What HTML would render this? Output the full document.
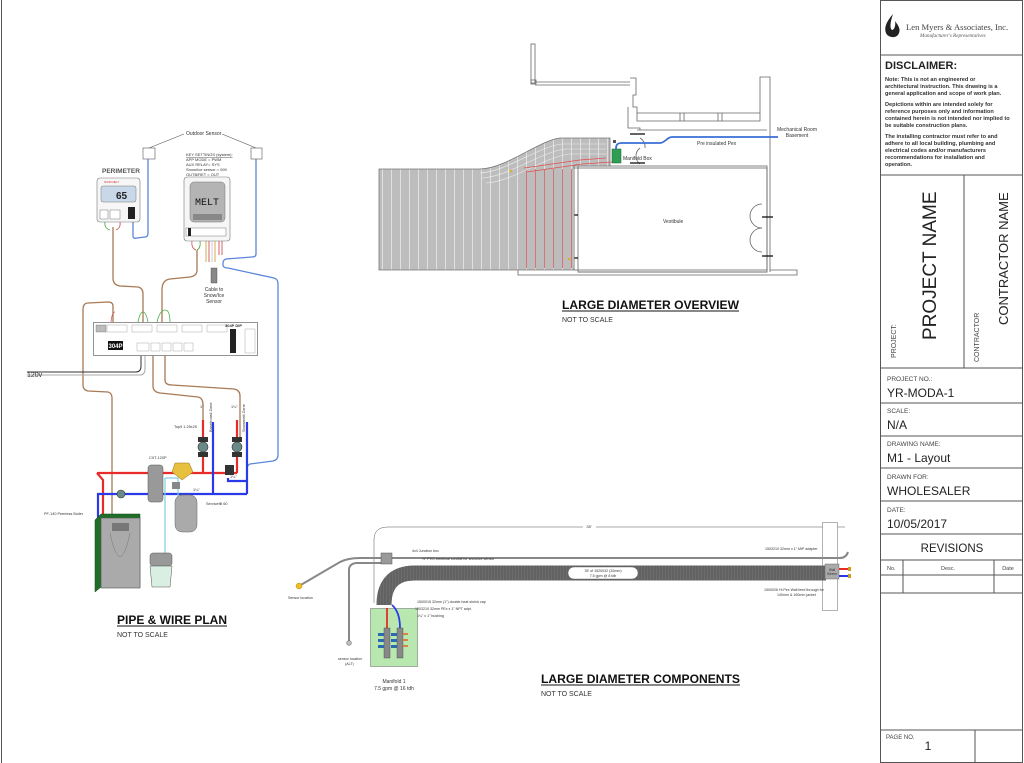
<!DOCTYPE html>
<html><head><meta charset="utf-8"><style>
html,body{margin:0;padding:0;background:#fff;}
svg{display:block;font-family:"Liberation Sans",sans-serif;}
</style></head><body>
<svg width="1024" height="763" viewBox="0 0 1024 763" xmlns="http://www.w3.org/2000/svg">
<defs>
<pattern id="serp" x="0" y="0" width="9" height="10" patternUnits="userSpaceOnUse">
<rect width="9" height="10" fill="#bdbdbd"/><line x1="4.5" y1="0" x2="4.5" y2="10" stroke="#f0f0f0" stroke-width="0.7"/>
</pattern>
<pattern id="serpr" x="0" y="0" width="9" height="10" patternUnits="userSpaceOnUse">
<rect width="9" height="10" fill="#bdbdbd"/><line x1="4.5" y1="0" x2="4.5" y2="10" stroke="#e06060" stroke-width="0.8"/>
</pattern>
<pattern id="hose" x="0" y="0" width="3" height="10" patternUnits="userSpaceOnUse">
<rect width="3" height="10" fill="#707070"/><line x1="1" y1="0" x2="1" y2="10" stroke="#444" stroke-width="0.8"/>
</pattern>
</defs>
<line x1="1.5" y1="0" x2="1.5" y2="763" stroke="#555" stroke-width="1"/>

<!-- ===== TITLE BLOCK ===== -->
<g stroke="#555" stroke-width="1" fill="none">
<rect x="880.5" y="0.5" width="142" height="762"/>
<line x1="880" y1="55" x2="1023" y2="55"/>
<line x1="880" y1="175" x2="1023" y2="175"/>
<line x1="964" y1="175" x2="964" y2="368"/>
<line x1="880" y1="368" x2="1023" y2="368"/>
<line x1="880" y1="403" x2="1023" y2="403"/>
<line x1="880" y1="436" x2="1023" y2="436"/>
<line x1="880" y1="468" x2="1023" y2="468"/>
<line x1="880" y1="501" x2="1023" y2="501"/>
<line x1="880" y1="534" x2="1023" y2="534"/>
<line x1="880" y1="560" x2="1023" y2="560"/>
<line x1="880" y1="575" x2="1023" y2="575"/>
<line x1="880" y1="593" x2="1023" y2="593"/>
<line x1="903" y1="560" x2="903" y2="593"/>
<line x1="994" y1="560" x2="994" y2="593"/>
<line x1="880" y1="730" x2="1023" y2="730"/>
<line x1="975" y1="730" x2="975" y2="763"/>
</g>
<path d="M893 14 C886 22 884 28 886 33 C888 38 897 39 899 33 C901 28 897 24 895 21 C896 26 894 30 892 30 C889 28 891 20 893 14 Z" fill="#222"/>
<text x="906" y="30" font-family="Liberation Serif,serif" font-size="8.6" fill="#444">Len Myers &amp; Associates, Inc.</text>
<text x="920" y="37" font-family="Liberation Serif,serif" font-size="5.2" font-style="italic" fill="#555">Manufacturer's Representatives</text>
<text x="885" y="69" font-size="11" font-weight="bold" fill="#222">DISCLAIMER:</text>
<g font-size="5.6" font-weight="bold" fill="#333">
<text x="885" y="81">Note: This is not an engineered or</text>
<text x="885" y="88">architectural instruction. This drawing is a</text>
<text x="885" y="95">general application and scope of work plan.</text>
<text x="885" y="106">Depictions within are intended solely for</text>
<text x="885" y="113">reference purposes only and information</text>
<text x="885" y="120">contained herein is not intended nor implied to</text>
<text x="885" y="127">be suitable construction plans.</text>
<text x="885" y="138">The installing contractor must refer to and</text>
<text x="885" y="145">adhere to all local building, plumbing and</text>
<text x="885" y="152">electrical codes and/or manufacturers</text>
<text x="885" y="159">recommendations for installation and</text>
<text x="885" y="166">operation.</text>
</g>
<text transform="translate(936,340) rotate(-90)" font-size="19" fill="#222">PROJECT NAME</text>
<text transform="translate(896,358) rotate(-90)" font-size="7" fill="#444">PROJECT:</text>
<text transform="translate(1008,325) rotate(-90)" font-size="13" fill="#222">CONTRACTOR NAME</text>
<text transform="translate(979,362) rotate(-90)" font-size="7" fill="#444">CONTRACTOR</text>
<text x="887" y="381" font-size="6.5" fill="#444">PROJECT NO.:</text>
<text x="887" y="397" font-size="12" fill="#222">YR-MODA-1</text>
<text x="887" y="413" font-size="6.5" fill="#444">SCALE:</text>
<text x="887" y="429" font-size="12" fill="#222">N/A</text>
<text x="887" y="446" font-size="6.5" fill="#444">DRAWING NAME:</text>
<text x="887" y="462" font-size="12" fill="#222">M1 - Layout</text>
<text x="887" y="479" font-size="6.5" fill="#444">DRAWN FOR:</text>
<text x="887" y="495" font-size="12" fill="#222">WHOLESALER</text>
<text x="887" y="512" font-size="6.5" fill="#444">DATE:</text>
<text x="887" y="528" font-size="12" fill="#222">10/05/2017</text>
<text x="952" y="552" font-size="11.5" fill="#222" text-anchor="middle">REVISIONS</text>
<text x="887" y="570" font-size="5.5" fill="#444">No.</text>
<text x="948" y="570" font-size="5.5" fill="#444" text-anchor="middle">Desc.</text>
<text x="1008" y="570" font-size="5.5" fill="#444" text-anchor="middle">Date</text>
<text x="886" y="739" font-size="6" fill="#444">PAGE NO.</text>
<text x="928" y="750" font-size="12" fill="#222" text-anchor="middle">1</text>

<!-- ===== LARGE DIAMETER OVERVIEW ===== -->
<g stroke="#666" stroke-width="0.8" fill="none">
<rect x="531" y="44" width="4" height="39"/>
<rect x="531" y="80" width="5" height="4"/>
<line x1="535" y1="82" x2="630" y2="82"/><line x1="535" y1="85" x2="630" y2="85"/>
<path d="M630 78 H636 V95 H633 V107 H637 V121 H760 V77 H770 V272"/>
<path d="M628 107 V128 H640 V130"/>
<line x1="637" y1="130" x2="767" y2="130"/>
<line x1="637" y1="113" x2="760" y2="113"/><line x1="680" y1="113" x2="680" y2="121"/><line x1="684" y1="113" x2="684" y2="121"/><line x1="718" y1="113" x2="718" y2="121"/><line x1="722" y1="113" x2="722" y2="121"/>
<rect x="574" y="168" width="193" height="102"/>
<rect x="578" y="166" width="189" height="106"/>
<path d="M518 270 V275 H797 V270 H770"/>
<line x1="578" y1="272" x2="767" y2="272"/>
<path d="M574 168 A12 12 0 0 1 586 156" /><path d="M640 148 A10 10 0 0 0 640 164"/><path d="M640 138 A10 10 0 0 1 645 148"/>
<path d="M562 215 A12 12 0 0 1 574 203"/><path d="M562 215 A12 12 0 0 0 574 227"/><path d="M562 240 A12 12 0 0 0 574 256"/><path d="M562 240 A12 12 0 0 1 574 228"/>
<path d="M750 216 A12 12 0 0 1 762 204"/><path d="M750 216 A12 12 0 0 0 762 228"/><path d="M750 240 A12 12 0 0 1 762 228"/><path d="M750 240 A12 12 0 0 0 762 252"/>
</g>
<g stroke="#111" stroke-width="1.3">
<line x1="554" y1="215" x2="578" y2="215"/><line x1="554" y1="258" x2="578" y2="258"/>
<line x1="762" y1="217" x2="773" y2="217"/><line x1="762" y1="256" x2="773" y2="256"/>
<line x1="630" y1="134" x2="645" y2="134"/><line x1="630" y1="163" x2="645" y2="163"/>
<line x1="603" y1="143" x2="603" y2="166"/>
</g>
<path d="M379 169 L480 169 C505 169 540 140 560 138 L610 138 L610 166 L574 166 L574 270 L379 270 Z" fill="url(#serp)" stroke="#777" stroke-width="0.8"/>
<path d="M522 169 L574 169 L574 268 L522 268 Z" fill="url(#serpr)"/>
<g fill="none" stroke="#eee" stroke-width="0.6">
<path d="M480 173 C505 172 540 146 562 144 L606 144"/><path d="M482 178 C508 177 542 151 566 149 L606 149"/><path d="M486 183 C512 182 546 156 570 154 L606 154"/>
</g>
<g fill="none" stroke="#e05050" stroke-width="0.8"><path d="M524 168 L580 160 L606 158"/><path d="M527 172 L582 164 L612 162"/></g>
<rect x="612" y="149" width="9" height="14" fill="#2e9e55" stroke="#1b5e33" stroke-width="0.5"/>
<rect x="613" y="140" width="3" height="3" fill="#555"/>
<path d="M616 149 C616 145 617 143 622 143 L660 143 C665 143 667 137 672 137 L778 137" fill="none" stroke="#3a6fd6" stroke-width="1.8"/>
<circle cx="511" cy="171" r="1.3" fill="#d8b020"/><circle cx="569" cy="259" r="1.3" fill="#d8b020"/>
<g font-size="5" fill="#333">
<text x="797" y="131" text-anchor="middle">Mechanical Room</text><text x="797" y="137" text-anchor="middle">Basement</text>
<text x="697" y="145">Pre insulated Pex</text>
<text x="623" y="160">Manifold Box</text>
<text x="663" y="223">Vestibule</text>
</g>
<text x="562" y="309" font-size="12" font-weight="bold" fill="#111" textLength="177" lengthAdjust="spacingAndGlyphs">LARGE DIAMETER OVERVIEW</text>
<line x1="562" y1="311" x2="739" y2="311" stroke="#111" stroke-width="1"/>
<text x="562" y="322" font-size="7" fill="#333">NOT TO SCALE</text>

<!-- ===== PIPE & WIRE PLAN ===== -->
<g stroke="#555" stroke-width="0.6" fill="#fff">
<line x1="149" y1="148" x2="184" y2="134"/><line x1="256" y1="148" x2="222" y2="134"/>
<rect x="143" y="148" width="12" height="11"/><rect x="251" y="148" width="11" height="11"/>
</g>
<text x="186" y="135" font-size="5" fill="#333">Outdoor Sensor</text>
<g font-size="4" fill="#333">
<text x="186" y="156" text-decoration="underline">KEY SETTINGS (system):</text>
<text x="186" y="161">APP MODE = PWM</text><text x="186" y="166">AUX RELAY= SYS</text>
<text x="186" y="171">Snow/Ice sensor = 090</text><text x="186" y="176">OUTB/RET = OUT</text>
</g>
<text x="102" y="173" font-size="6.5" font-weight="bold" fill="#555">PERIMETER</text>
<g fill="none" stroke-width="1.3">
<path d="M133 220 V236 Q133 239 137 238 L145 237 Q148 237 148 233 V159" stroke="#5b86d8"/>
<path d="M256 159 V254 Q256 257 252 257 L226 259 Q223 260 223 263 V265 Q223 268 228 268 L274 278 Q278 279 278 284 V455 Q278 460 273 461 L250 464 Q247 465 247 470" stroke="#5b86d8"/>
<path d="M113 227 V278 Q113 285 120 286 L138 287 Q143 288 143 294 V322" stroke="#a87a55"/>
<path d="M197 250 V270 Q197 276 190 277 L170 279 Q162 280 162 290 V322" stroke="#a87a55"/>
<path d="M113 322 V306 Q113 302 108 302 L88 303 Q83 303 83 310 V385 Q83 390 88 391 L108 392 Q112 393 112 398 V520" stroke="#a87a55"/>
<path d="M153 356 V386 Q153 392 160 393 L198 397 Q203 398 203 405 V440" stroke="#a87a55"/>
<path d="M165 356 V380 Q165 385 172 385 L234 389 Q240 390 240 396 V440" stroke="#a87a55"/>
<path d="M27 372 H136 Q141 372 141 366 V356" stroke="#333" stroke-width="1"/>
<path d="M27 375 H140 Q145 375 145 369 V356" stroke="#aaa" stroke-width="1"/>
<g stroke-width="0.9"><path d="M206 241 V262" stroke="#d4a040"/><path d="M209 241 V262" stroke="#cc5555"/><path d="M212 241 V262" stroke="#c8c8c8"/><path d="M215 241 V262" stroke="#d4a040"/><path d="M219 241 V255" stroke="#cc5555"/><path d="M222 241 V255" stroke="#cc5555"/></g>
<path d="M105 222 Q104 228 110 230" stroke="#4a4" stroke-width="0.8"/><path d="M120 222 Q121 228 116 230" stroke="#c55" stroke-width="0.8"/>
<path d="M192 241 Q191 248 196 250" stroke="#c55" stroke-width="0.8"/><path d="M200 241 Q201 248 197 250" stroke="#4a4" stroke-width="0.8"/>
<path d="M138 322 Q140 312 143 312 Q146 312 148 322" stroke="#4a4" stroke-width="0.8"/>
<path d="M157 322 Q160 310 165 310 Q170 310 170 322" stroke="#4a4" stroke-width="0.8"/>
<path d="M111 322 Q112 312 115 312" stroke="#c55" stroke-width="0.8"/>
</g>
<rect x="97" y="178" width="43" height="44" rx="3" fill="#f6f6f6" stroke="#777" stroke-width="0.6"/>
<rect x="101" y="186" width="35" height="16" rx="2" fill="#c8d8e8" stroke="#777" stroke-width="0.5"/>
<text x="116" y="199" font-size="10" font-weight="bold" fill="#222">65</text>
<text x="104" y="183" font-size="2.5" fill="#c33">SNOW MELT</text>
<rect x="100" y="210" width="8" height="9" fill="#fff" stroke="#555" stroke-width="0.4"/><rect x="110" y="210" width="10" height="9" fill="#fff" stroke="#555" stroke-width="0.4"/><rect x="128" y="207" width="7" height="12" fill="#222"/>
<rect x="184" y="177" width="46" height="64" rx="3" fill="#f6f6f6" stroke="#777" stroke-width="0.6"/>
<rect x="190" y="182" width="35" height="40" rx="4" fill="#b4b4b4" stroke="#777" stroke-width="0.5"/>
<text x="207" y="205" font-size="10" font-family="Liberation Mono,monospace" fill="#111" text-anchor="middle">MELT</text>
<rect x="193" y="214" width="29" height="6" fill="#888"/>
<rect x="186" y="228" width="40" height="8" fill="#fff" stroke="#555" stroke-width="0.4"/><rect x="188" y="228" width="3" height="8" fill="#222"/>
<rect x="211" y="268" width="6" height="15" fill="#888" stroke="#444" stroke-width="0.4"/>
<g font-size="5" fill="#333" text-anchor="middle"><text x="214" y="291">Cable to</text><text x="214" y="297">Snow/Ice</text><text x="214" y="303">Sensor</text></g>
<rect x="93.5" y="322.5" width="164" height="33" fill="#fff" stroke="#666" stroke-width="0.7"/>
<rect x="96" y="325" width="10" height="7" fill="#bbb" stroke="#555" stroke-width="0.3"/>
<g fill="#fff" stroke="#777" stroke-width="0.3">
<rect x="107" y="325" width="20" height="7"/><rect x="132" y="325" width="20" height="7"/><rect x="157" y="325" width="20" height="7"/><rect x="182" y="325" width="20" height="7"/><rect x="207" y="325" width="20" height="7"/>
<rect x="137" y="343" width="12" height="8"/><rect x="151" y="343" width="9" height="8"/><rect x="162" y="343" width="9" height="8"/><rect x="173" y="343" width="9" height="8"/><rect x="184" y="343" width="9" height="8"/>
</g>
<rect x="108" y="341" width="15" height="9" fill="#111"/><text x="115.5" y="348" font-size="6" font-weight="bold" fill="#fff" text-anchor="middle">304P</text>
<text x="225" y="327" font-size="4" font-weight="bold" fill="#333">304P DIP</text>
<rect x="230" y="329" width="6" height="24" fill="#222"/>
<rect x="245" y="329" width="10" height="24" fill="#fff" stroke="#777" stroke-width="0.3"/>
<g fill="none" stroke-width="2.2">
<path d="M97 473 H237" stroke="#e82a2a"/>
<path d="M97 473 L103 480 V520" stroke="#e82a2a"/>
<path d="M98 520 V494 H247" stroke="#2a3ae8"/>
<path d="M203 473 V420" stroke="#e82a2a"/><path d="M237 473 V420" stroke="#e82a2a"/>
<path d="M213 494 V422" stroke="#2a3ae8"/><path d="M247 494 V422" stroke="#2a3ae8"/>
<path d="M228 478 V481 H247" stroke="#2a3ae8"/>
</g>
<path d="M165 478 H178 V520" fill="none" stroke="#7fd0e0" stroke-width="1.2"/>
<path d="M165 478 V570" fill="none" stroke="#7fd0e0" stroke-width="1.2"/>
<rect x="148" y="465" width="15" height="37" rx="3" fill="#999" stroke="#555" stroke-width="0.5"/>
<path d="M175 463 H189 L193 472 L182 480 L172 472 Z" fill="#e8c040" stroke="#987010" stroke-width="0.5"/>
<rect x="172" y="482" width="8" height="7" fill="#888"/>
<rect x="175" y="495" width="22" height="37" rx="7" fill="#aaa" stroke="#666" stroke-width="0.5"/>
<circle cx="203" cy="447" r="5" fill="#6a8a8a" stroke="#333" stroke-width="0.6"/><circle cx="237" cy="447" r="5" fill="#6a8a8a" stroke="#333" stroke-width="0.6"/>
<rect x="198" y="437" width="10" height="5" fill="#333"/><rect x="232" y="437" width="10" height="5" fill="#333"/>
<rect x="198" y="452" width="10" height="5" fill="#333"/><rect x="232" y="452" width="10" height="5" fill="#333"/>
<circle cx="121" cy="494" r="4" fill="#6a8a8a" stroke="#333" stroke-width="0.6"/>
<rect x="225" y="465" width="9" height="10" fill="#333"/>
<path d="M95 520 L101 514 L140 514 L140 587 L101 587 L95 592 Z" fill="#1e6e28" stroke="#114416" stroke-width="0.5"/>
<rect x="101" y="518" width="39" height="70" fill="#aaa" stroke="#555" stroke-width="0.6"/>
<rect x="112" y="523" width="17" height="8" fill="#777"/>
<path d="M110 533 Q120 580 130 533" fill="none" stroke="#777" stroke-width="0.5"/>
<rect x="150" y="553" width="22" height="13" rx="3" fill="#999" stroke="#555" stroke-width="0.5"/>
<path d="M150 566 H172 L170 587 H152 Z" fill="#d8efe2" stroke="#555" stroke-width="0.5"/>
<g font-size="3.8" fill="#333">
<text x="44" y="515">PF-140 Peerless Boiler</text><text x="149" y="459">CXT-120P</text><text x="174" y="428">Top9 1.25x25</text><text x="206" y="505">Servicefill 60</text>
<text x="200" y="408">1"</text><text x="231" y="408">1¼"</text><text x="193" y="491">1¼"</text><text x="230" y="478">1¼"</text>
</g>
<g font-size="4" fill="#333"><text transform="translate(212,432) rotate(-90)">Baseboard Zone</text><text transform="translate(245,432) rotate(-90)">Snowmelt Zone</text></g>
<text x="27" y="377" font-size="7" fill="#333">120v</text>
<text x="117" y="624" font-size="12" font-weight="bold" fill="#111" textLength="110" lengthAdjust="spacingAndGlyphs">PIPE &amp; WIRE PLAN</text>
<line x1="117" y1="626" x2="227" y2="626" stroke="#111" stroke-width="1"/>
<text x="117" y="637" font-size="7" fill="#333">NOT TO SCALE</text>

<!-- ===== LARGE DIAMETER COMPONENTS ===== -->
<path d="M374 603 V540 Q374 527 388 527 L583 527 M596 527 H845" fill="none" stroke="#555" stroke-width="0.5"/>
<text x="589" y="528" font-size="4" fill="#333" text-anchor="middle">35'</text>
<rect x="822.5" y="522.5" width="15" height="88" fill="#fff" stroke="#666" stroke-width="0.5"/>
<g fill="none" stroke="#888" stroke-width="2">
<path d="M299 586 L340 562 Q348 558 360 558 H382"/>
<path d="M349 641 V570 Q349 564 356 563 L382 563"/>
<path d="M390 558 H840 Q846 558 848 552"/>
</g>
<rect x="381" y="553" width="11" height="11" fill="#999" stroke="#555" stroke-width="0.5"/>
<path d="M384 605 Q384 573 415 573 L826 573" fill="none" stroke="url(#hose)" stroke-width="15"/>
<path d="M384 605 Q384 573 415 573 L826 573" fill="none" stroke="#666" stroke-width="15" opacity="0.4"/>
<rect x="568" y="567" width="70" height="12" rx="6" fill="#fff" stroke="#555" stroke-width="0.4"/>
<g font-size="3.6" fill="#333" text-anchor="middle"><text x="603" y="572">35' of 1520032 (32mm)</text><text x="603" y="577">7.5 gpm @ 8 tdh</text></g>
<rect x="825" y="564" width="14" height="15" fill="#aaa" stroke="#555" stroke-width="0.4"/>
<g font-size="3.3" fill="#333" text-anchor="middle"><text x="832" y="571">Wall</text><text x="832" y="575">Sleeve</text></g>
<line x1="839" y1="569" x2="848" y2="569" stroke="#e82a2a" stroke-width="2"/><line x1="839" y1="576" x2="848" y2="576" stroke="#2a3ae8" stroke-width="2"/>
<rect x="848" y="567" width="3" height="4" fill="#c9a020"/><rect x="848" y="574" width="3" height="4" fill="#c9a020"/>
<rect x="370.5" y="608.5" width="47" height="58" fill="#b8e8b0" stroke="#666" stroke-width="0.5"/>
<path d="M387 608 V630" stroke="#e82a2a" stroke-width="1.8"/><path d="M392 605 Q400 612 400 628" fill="none" stroke="#2a3ae8" stroke-width="1.8"/>
<rect x="384" y="628" width="6" height="30" fill="#888" stroke="#444" stroke-width="0.4"/><rect x="397" y="628" width="6" height="30" fill="#888" stroke="#444" stroke-width="0.4"/>
<g fill="#2a6ab0"><rect x="378" y="633" width="6" height="3"/><rect x="378" y="639" width="6" height="3"/><rect x="378" y="645" width="6" height="3"/><rect x="391" y="633" width="6" height="3"/><rect x="391" y="639" width="6" height="3"/><rect x="391" y="645" width="6" height="3"/></g>
<g fill="#e08040"><rect x="403" y="633" width="5" height="2"/><rect x="403" y="639" width="5" height="2"/><rect x="403" y="645" width="5" height="2"/></g>
<circle cx="299" cy="586" r="3" fill="#f0c020" stroke="#987010" stroke-width="0.4"/>
<circle cx="349" cy="643" r="2.5" fill="#bbb" stroke="#555" stroke-width="0.4"/>
<g font-size="3.6" fill="#333">
<text x="288" y="599">Sensor location</text><text x="338" y="660">sensor location</text><text x="345" y="665">(ALT)</text>
<text x="412" y="552">4x4 Junction box</text><text x="422" y="560">½" PVC electrical conduit for snow/ice sensor</text>
<text x="765" y="550">1503210 32mm x 1" MIP adapter</text>
<text x="764" y="591">1500026 Hi Pex Wall feed through for</text><text x="777" y="596">140mm &amp; 160mm jacket</text>
<text x="417" y="603">1500015 32mm (1") double heat shrink cap</text>
<text x="415" y="610">1503210 32mm PEx x 1" NPT adpt.</text>
<text x="417" y="617">1¼" x 1" bushing</text>
</g>
<g font-size="5" fill="#333" text-anchor="middle"><text x="394" y="683">Manifold 1</text><text x="394" y="690">7.5 gpm @ 16 tdh</text></g>
<text x="541" y="683" font-size="12" font-weight="bold" fill="#111" textLength="199" lengthAdjust="spacingAndGlyphs">LARGE DIAMETER COMPONENTS</text>
<line x1="541" y1="685" x2="740" y2="685" stroke="#111" stroke-width="1"/>
<text x="541" y="696" font-size="7" fill="#333">NOT TO SCALE</text>
</svg>
</body></html>
